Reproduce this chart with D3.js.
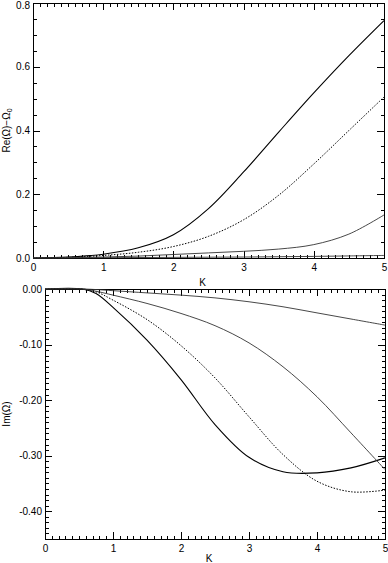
<!DOCTYPE html>
<html>
<head>
<meta charset="utf-8">
<script src="https://cdn.jsdelivr.net/npm/d3@7"></script>
<style>
  body { margin: 0; background: #fff; }
  svg { display: block; font-family: "Liberation Sans", Arial, sans-serif; }
  .axis text { font-size: 10px; fill: #000; }
  .axis path, .axis line { stroke: #000; shape-rendering: crispEdges; }
</style>
</head>
<body>
<svg width="388" height="563"></svg>
<script>
// top panel: Re(Omega) - Omega_0 vs K
let kTop = [0, 0.5, 1, 1.5, 2, 2.5, 3, 3.5, 4, 4.5, 5];
let reA = [0, 0.003, 0.012, 0.032, 0.073, 0.155, 0.27, 0.395, 0.518, 0.635, 0.745];
let reB = [0, 0.002, 0.008, 0.018, 0.036, 0.068, 0.12, 0.197, 0.295, 0.40, 0.505];
let reC = [0, 0.001, 0.003, 0.006, 0.011, 0.016, 0.021, 0.028, 0.042, 0.075, 0.135];
let reD = [0, 0.0005, 0.001, 0.0015, 0.002, 0.0025, 0.003, 0.004, 0.005, 0.0065, 0.008];

// bottom panel: Im(Omega) vs K
let kBot = [0, 0.55, 0.75, 1, 1.5, 2, 2.5, 3, 3.5, 4, 4.5, 5];
let imA = [0, 0, -0.008, -0.033, -0.092, -0.163, -0.244, -0.303, -0.329, -0.331, -0.322, -0.304];
let imB = [0, 0, -0.005, -0.020, -0.055, -0.102, -0.160, -0.230, -0.298, -0.346, -0.365, -0.362];
let imC = [0, 0, -0.004, -0.011, -0.026, -0.044, -0.066, -0.097, -0.140, -0.194, -0.259, -0.325];
let imD = [0, 0, -0.001, -0.003, -0.007, -0.011, -0.016, -0.023, -0.032, -0.043, -0.054, -0.065];

let svg = d3.select("svg");

let styles = [
  { stroke: "#000", width: 1.1, dash: null },
  { stroke: "#000", width: 1, dash: "1.5,1.5" },
  { stroke: "#333", width: 0.9, dash: null },
  { stroke: "#333", width: 0.9, dash: null }
];

function range(a, b, step) {
  let out = [];
  for (let v = a; v <= b + 1e-9; v += step) out.push(+v.toFixed(4));
  return out;
}

function panel(opt) {
  let x = d3.scaleLinear().domain([0, 5]).range([opt.left, opt.right]);
  let y = d3.scaleLinear().domain(opt.ydom).range([opt.bottom, opt.top]);
  let g = svg.append("g");

  let xMinor = range(0, 5, 0.1);
  let yMinor = range(opt.ydom[0], opt.ydom[1], opt.yMinorStep);

  // minor ticks on all four sides
  g.append("g").attr("class", "axis").attr("transform", `translate(0,${opt.bottom})`)
    .call(d3.axisBottom(x).tickValues(xMinor).tickSize(-3.5).tickFormat(""));
  g.append("g").attr("class", "axis").attr("transform", `translate(0,${opt.top})`)
    .call(d3.axisTop(x).tickValues(xMinor).tickSize(-3.5).tickFormat(""));
  g.append("g").attr("class", "axis").attr("transform", `translate(${opt.left},0)`)
    .call(d3.axisLeft(y).tickValues(yMinor).tickSize(-3.5).tickFormat(""));
  g.append("g").attr("class", "axis").attr("transform", `translate(${opt.right},0)`)
    .call(d3.axisRight(y).tickValues(yMinor).tickSize(-3.5).tickFormat(""));

  // major ticks
  g.append("g").attr("class", "axis").attr("transform", `translate(0,${opt.bottom})`)
    .call(d3.axisBottom(x).tickValues([0, 1, 2, 3, 4, 5]).tickSizeInner(-7).tickSizeOuter(0).tickPadding(6).tickFormat(d3.format("d")));
  g.append("g").attr("class", "axis").attr("transform", `translate(0,${opt.top})`)
    .call(d3.axisTop(x).tickValues([0, 1, 2, 3, 4, 5]).tickSize(-7).tickFormat(""));
  let yAx = g.append("g").attr("class", "axis").attr("transform", `translate(${opt.left},0)`)
    .call(d3.axisLeft(y).tickValues(opt.yMajor).tickSizeInner(-7).tickSizeOuter(0).tickPadding(3).tickFormat(opt.yFmt));
  // keep the topmost label inside the page
  yAx.selectAll(".tick text").filter(d => y(d) < 6).attr("dy", "0.5em");
  g.append("g").attr("class", "axis").attr("transform", `translate(${opt.right},0)`)
    .call(d3.axisRight(y).tickValues(opt.yMajor).tickSize(-7).tickFormat(""));

  g.append("rect")
    .attr("x", opt.left).attr("y", opt.top)
    .attr("width", opt.right - opt.left).attr("height", opt.bottom - opt.top)
    .attr("fill", "none").attr("stroke", "#000").attr("stroke-width", 1)
    .attr("shape-rendering", "crispEdges");

  let line = d3.line()
    .x(d => x(d[0]))
    .y(d => y(d[1]))
    .curve(d3.curveCatmullRom.alpha(0.5));

  opt.series.forEach((vals, i) => {
    let s = styles[i];
    g.append("path")
      .datum(opt.k.map((k, j) => [k, vals[j]]))
      .attr("d", line)
      .attr("fill", "none")
      .attr("stroke", s.stroke)
      .attr("stroke-width", s.width)
      .attr("stroke-dasharray", s.dash);
  });

  // axis titles
  g.append("text")
    .attr("x", (opt.left + opt.right) / 2 - 6).attr("y", opt.bottom + opt.kOff)
    .attr("text-anchor", "middle").attr("font-size", 10)
    .text("K");
  g.append("text")
    .attr("transform", `translate(${opt.ylabX},${(opt.top + opt.bottom) / 2}) rotate(-90)`)
    .attr("text-anchor", "middle").attr("font-size", 10)
    .html(opt.ylab);
}

panel({
  left: 33, right: 384, top: 3, bottom: 258,
  ydom: [0, 0.8], yMajor: [0, 0.2, 0.4, 0.6, 0.8], yMinorStep: 0.05,
  yFmt: d => d.toFixed(1),
  k: kTop, series: [reA, reB, reC, reD],
  ylabX: 10, kOff: 28,
  ylab: 'Re(\u03A9)\u2212\u03A9<tspan font-size="7" dy="2">0</tspan>'
});

panel({
  left: 45, right: 385, top: 289, bottom: 539,
  ydom: [-0.45, 0], yMajor: [0, -0.1, -0.2, -0.3, -0.4], yMinorStep: 0.01,
  yFmt: d => (Math.abs(d) < 1e-9 ? "0.00" : d.toFixed(2)),
  k: kBot, series: [imA, imB, imC, imD],
  ylabX: 10, kOff: 23,
  ylab: 'Im(\u03A9)'
});
</script>
</body>
</html>
